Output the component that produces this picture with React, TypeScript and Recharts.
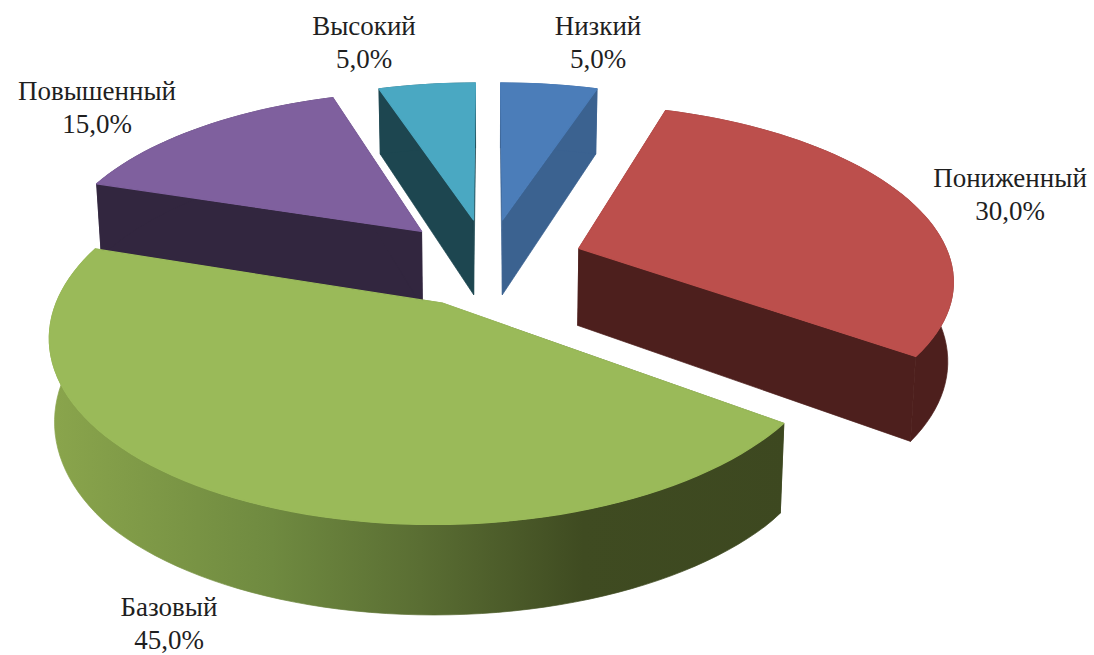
import React from "react";
import { PieChart, Pie } from "recharts";

const categories = ["Низкий", "Пониженный", "Базовый", "Повышенный", "Высокий"];
const shares = [5, 30, 45, 15, 5];
const topColors = ["#4B7DB9", "#BC4F4C", "#9ABA59", "#7F609E", "#4AA8C2"];
const wallColors = ["#3B6290", "#4D1F1D", "url(#greenWall)", "#32263F", "#1D4650"];
const labelAnchors = [
  [598, 35],
  [1010, 187],
  [169, 616],
  [97, 100],
  [364, 35],
];

const rows = categories.map((name, i) => ({
  name,
  value: shares[i],
  top: topColors[i],
  wall: wallColors[i],
}));

// Perspective view of the disc: everything derives from the sector geometry Recharts supplies.
const SQUASH = 0.46;
const PERSPECTIVE = 0.16;
const EXPLODE = 0.26;
const DEPTH = 78;
const DEPTH_SCALE_LIMIT = 1.16;
const BOTTOM_SHRINK = 0.988;

type P = { x: number; y: number; s: number };

function project(cx: number, cy: number, R: number, X: number, Y: number): P {
  const s = 1 / (1 + PERSPECTIVE * Y);
  return { x: cx + R * X * s, y: cy - R * SQUASH * Y * s, s };
}

function lower(cx: number, p: P): P {
  return {
    x: cx + (p.x - cx) * BOTTOM_SHRINK,
    y: p.y + DEPTH * Math.min(p.s, DEPTH_SCALE_LIMIT),
    s: p.s,
  };
}

function toPath(pts: P[]): string {
  return pts.map((p, i) => `${i ? "L" : "M"}${p.x.toFixed(2)} ${p.y.toFixed(2)}`).join(" ") + " Z";
}

function sliceGeometry(props: any) {
  const { cx, cy, outerRadius, startAngle, endAngle } = props;
  const t0 = 90 - startAngle;
  const t1 = 90 - endAngle;
  const mid = (((t0 + t1) / 2) * Math.PI) / 180;
  const ex = EXPLODE * Math.sin(mid);
  const ey = EXPLODE * Math.cos(mid);
  const apex = project(cx, cy, outerRadius, ex, ey);
  const rim: P[] = [];
  const n = Math.max(4, Math.ceil((t1 - t0) / 2));
  for (let i = 0; i <= n; i++) {
    const a = ((t0 + ((t1 - t0) * i) / n) * Math.PI) / 180;
    rim.push(project(cx, cy, outerRadius, ex + Math.sin(a), ey + Math.cos(a)));
  }
  return { apex, rim, cx };
}

function WallShape(props: any) {
  const { apex, rim, cx } = sliceGeometry(props);
  const wall = props.payload?.wall ?? props.wall;
  const low = rim.map((p) => lower(cx, p));
  const lowApex = lower(cx, apex);
  const strip = [...rim, ...[...low].reverse()];
  const a = [apex, rim[0], low[0], lowApex];
  const b = [apex, rim[rim.length - 1], low[low.length - 1], lowApex];
  return (
    <g>
      <defs>
        <linearGradient id="greenWall" gradientUnits="userSpaceOnUse" x1="50" y1="0" x2="790" y2="0">
          <stop offset="0" stopColor="#8AA54C" />
          <stop offset="0.3" stopColor="#6F8A40" />
          <stop offset="0.5" stopColor="#5A6E33" />
          <stop offset="0.72" stopColor="#3F4B21" />
          <stop offset="1" stopColor="#3D4820" />
        </linearGradient>
      </defs>
      {[a, b, strip].map((poly, i) => (
        <path key={i} d={toPath(poly)} fill={wall} stroke={wall} strokeWidth={0.7} />
      ))}
    </g>
  );
}

function TopShape(props: any) {
  const { apex, rim } = sliceGeometry(props);
  const top = props.payload?.top ?? props.top;
  return <path d={toPath([apex, ...rim])} fill={top} stroke={top} strokeWidth={1.2} strokeLinejoin="round" />;
}

function renderLabel(props: any) {
  const i = props.index;
  const [x, y] = labelAnchors[i];
  const pct = shares[i].toFixed(1).replace(".", ",") + "%";
  return (
    <text
      key={i}
      x={x}
      y={y}
      textAnchor="middle"
      fontFamily="'Liberation Serif', serif"
      fontSize={27}
      fill="#1f1f1f"
    >
      <tspan x={x} y={y}>{categories[i]}</tspan>
      <tspan x={x} y={y + 33}>{pct}</tspan>
    </text>
  );
}

export default function App() {
  return (
    <div style={{ position: "absolute", left: 0, top: 0, width: 1094, height: 655, background: "#fff" }}>
      <PieChart width={1094} height={655} margin={{ top: 0, right: 0, bottom: 0, left: 0 }}>
        <Pie
          data={rows}
          dataKey="value"
          nameKey="name"
          cx={488}
          cy={262}
          outerRadius={372}
          startAngle={90}
          endAngle={-270}
          isAnimationActive={false}
          shape={WallShape}
          legendType="none"
        />
        <Pie
          data={rows}
          dataKey="value"
          nameKey="name"
          cx={488}
          cy={262}
          outerRadius={372}
          startAngle={90}
          endAngle={-270}
          isAnimationActive={false}
          shape={TopShape}
          label={renderLabel}
          labelLine={false}
          legendType="none"
        />
      </PieChart>
    </div>
  );
}
